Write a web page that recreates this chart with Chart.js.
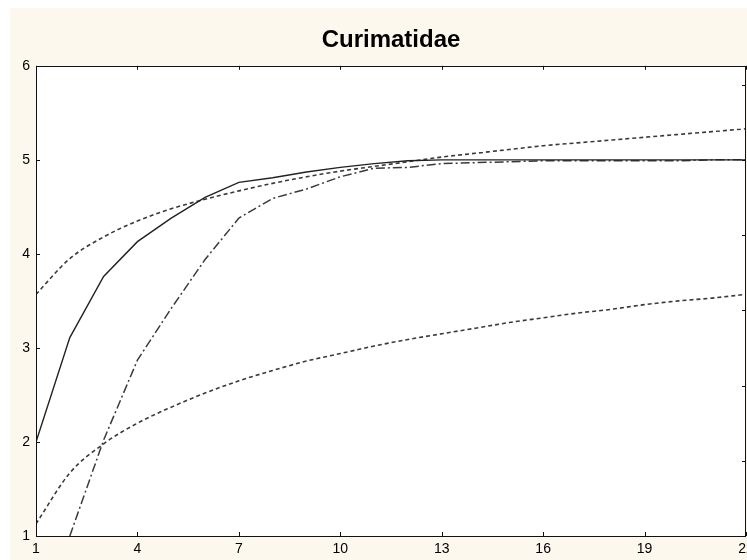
<!DOCTYPE html>
<html lang="en">
<head>
    <meta charset="UTF-8">
    <title>Curimatidae</title>
    <style>
        html, body { margin: 0; padding: 0; background: #fff; overflow: hidden; }
        .wrap { position: absolute; left: 10px; top: 8px; width: 762px; height: 552px; }
    </style>
</head>
<body>
    <div class="wrap">
        <canvas id="myChart" width="762" height="552"></canvas>
    </div>

    <script src="https://cdn.jsdelivr.net/npm/chart.js@4.4.0/dist/chart.umd.min.js"></script>
    <script>
        // samples 1..22
        var samples = [1, 2, 3, 4, 5, 6, 7, 8, 9, 10, 11, 12, 13, 14, 15, 16, 17, 18, 19, 20, 21, 22];

        // observed curve (solid)
        var observed = [2.0, 3.11, 3.76, 4.13, 4.38, 4.6, 4.76, 4.81, 4.87, 4.92, 4.96, 4.99,
            5.0, 5.0, 5.0, 5.0, 5.0, 5.0, 5.0, 5.0, 5.0, 5.0];

        // estimator (dash-dot), first value is off the chart
        var estimator = [null, 1.0, 2.02, 2.87, 3.42, 3.94, 4.38, 4.59, 4.69, 4.82, 4.91, 4.92,
            4.96, 4.97, 4.98, 4.99, 4.99, 4.99, 4.99, 4.99, 5.0, 5.0];

        // fitted curves (dotted)
        var fitUpper = [3.57, 3.95, 4.18, 4.35, 4.48, 4.58, 4.67, 4.75, 4.82, 4.88, 4.93, 4.98,
            5.03, 5.07, 5.11, 5.15, 5.18, 5.21, 5.24, 5.27, 5.3, 5.33];
        var fitLower = [1.13, 1.67, 1.98, 2.2, 2.37, 2.52, 2.65, 2.76, 2.86, 2.94, 3.02, 3.09,
            3.15, 3.21, 3.27, 3.32, 3.37, 3.41, 3.46, 3.5, 3.53, 3.57];

        // ticks on the right frame edge
        var rightTicks = [1.8, 2.6, 3.4, 4.2, 5.0, 5.8];

        function pts(arr) {
            return samples.map(function (x, i) { return { x: x, y: arr[i] }; });
        }

        var framePlugin = {
            id: 'frame',
            beforeDraw: function (chart) {
                var c = chart.ctx, a = chart.chartArea;
                c.save();
                c.fillStyle = '#fdf8ee';
                c.fillRect(0, 0, chart.width, chart.height);
                c.fillStyle = '#ffffff';
                c.fillRect(a.left, a.top, a.right - a.left, a.bottom - a.top);
                c.restore();
            },
            afterDatasetsDraw: function (chart) {
                var c = chart.ctx, a = chart.chartArea;
                var xs = chart.scales.x, ys = chart.scales.y;
                var len = 4;
                c.save();
                c.strokeStyle = '#111';
                c.lineWidth = 1;
                c.strokeRect(Math.round(a.left) + 0.5, Math.round(a.top) + 0.5,
                    Math.round(a.right - a.left) - 1, Math.round(a.bottom - a.top));
                c.beginPath();
                xs.ticks.forEach(function (t) {
                    var px = Math.round(xs.getPixelForValue(t.value)) + 0.5;
                    c.moveTo(px, a.bottom); c.lineTo(px, a.bottom - len);
                    c.moveTo(px, a.top); c.lineTo(px, a.top + len);
                });
                ys.ticks.forEach(function (t) {
                    var py = Math.round(ys.getPixelForValue(t.value)) + 0.5;
                    c.moveTo(a.left, py); c.lineTo(a.left + len, py);
                });
                rightTicks.forEach(function (v) {
                    var py = Math.round(ys.getPixelForValue(v)) + 0.5;
                    c.moveTo(a.right, py); c.lineTo(a.right - len, py);
                });
                c.stroke();
                c.restore();
            }
        };

        function createChart() {
            var ctx = document.getElementById('myChart').getContext('2d');
            var myChart = new Chart(ctx, {
                type: 'line',
                data: {
                    datasets: [
                        {
                            label: 'Observed',
                            data: pts(observed),
                            borderColor: '#222',
                            borderWidth: 1.4,
                            pointRadius: 0,
                            tension: 0
                        },
                        {
                            label: 'Estimator',
                            data: pts(estimator),
                            borderColor: '#3a3a3a',
                            borderWidth: 1.5,
                            borderDash: [9, 3, 2, 3],
                            pointRadius: 0,
                            tension: 0
                        },
                        {
                            label: 'Fit upper',
                            data: pts(fitUpper),
                            borderColor: '#3a3a3a',
                            borderWidth: 1.6,
                            borderDash: [4, 3],
                            pointRadius: 0,
                            cubicInterpolationMode: 'monotone'
                        },
                        {
                            label: 'Fit lower',
                            data: pts(fitLower),
                            borderColor: '#3a3a3a',
                            borderWidth: 1.6,
                            borderDash: [4, 3],
                            pointRadius: 0,
                            cubicInterpolationMode: 'monotone'
                        }
                    ]
                },
                options: {
                    responsive: false,
                    animation: false,
                    plugins: {
                        legend: { display: false },
                        tooltip: { enabled: false },
                        title: {
                            display: true,
                            text: 'Curimatidae',
                            color: '#000',
                            font: { family: 'Liberation Sans, Arial, sans-serif', size: 24, weight: 'bold' },
                            padding: { top: 18, bottom: 11 }
                        }
                    },
                    scales: {
                        x: {
                            type: 'linear',
                            min: 1,
                            max: 22,
                            grid: { display: false, drawTicks: false },
                            border: { display: false },
                            ticks: {
                                stepSize: 3,
                                padding: 5,
                                maxRotation: 0,
                                color: '#000',
                                font: { family: 'Liberation Sans, Arial, sans-serif', size: 14 }
                            },
                            afterFit: function (s) { s.height = 24; }
                        },
                        y: {
                            min: 1,
                            max: 6,
                            grid: { display: false, drawTicks: false },
                            border: { display: false },
                            ticks: {
                                stepSize: 1,
                                padding: 6,
                                color: '#000',
                                font: { family: 'Liberation Sans, Arial, sans-serif', size: 14 }
                            },
                            afterFit: function (s) { s.width = 26; }
                        },
                        // empty mirror axis, only keeps the right margin
                        y2: {
                            position: 'right',
                            min: 1,
                            max: 6,
                            grid: { display: false, drawTicks: false },
                            border: { display: false },
                            ticks: { display: false },
                            afterFit: function (s) { s.width = 26; }
                        }
                    }
                },
                plugins: [framePlugin]
            });
        }

        createChart();
    </script>
</body>
</html>
